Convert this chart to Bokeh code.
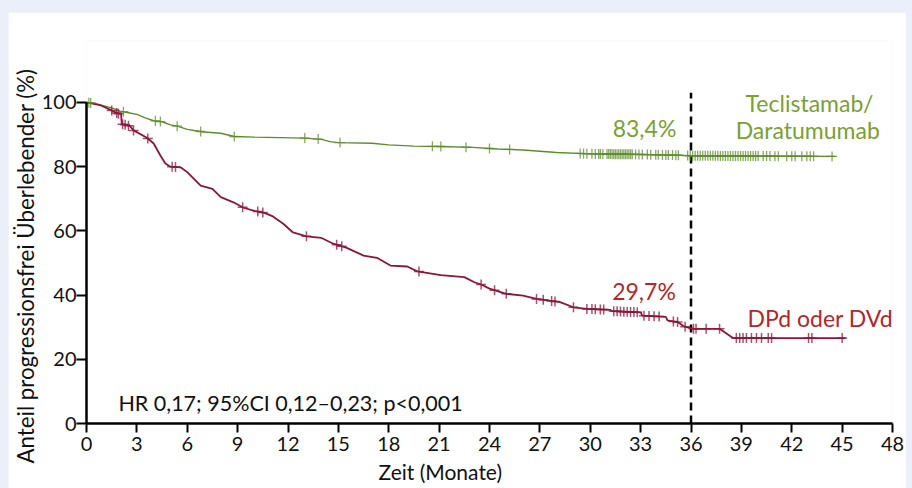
import numpy as np
from bokeh.plotting import figure
from bokeh.models import Label, FixedTicker, Range1d, Title
from bokeh.layouts import column
from bokeh.embed import file_html
from bokeh.resources import INLINE

# ---------------- data ----------------
x_ticks = [0, 3, 6, 9, 12, 15, 18, 21, 24, 27, 30, 33, 36, 39, 42, 45, 48]
y_ticks = [0, 20, 40, 60, 80, 100]

# Teclistamab/Daratumumab (Kaplan-Meier estimate, %)
tec_t = [0, 0.5, 1.0, 1.5, 2.0, 2.5, 3.0, 3.5, 4.0, 4.5, 5.0, 5.5, 6.0, 6.5, 7.0,
         8.0, 8.8, 10.0, 13.0, 14.0, 14.5, 15.0, 17.0, 18.0, 19.5, 21.0, 23.0,
         24.5, 26.0, 27.0, 28.0, 30.0, 33.0, 35.0, 36.0, 44.6]
tec_s = [100, 99.7, 99.0, 98.3, 97.3, 96.8, 96.3, 95.2, 94.3, 94.0, 93.0, 92.5,
         91.6, 91.2, 90.8, 90.4, 89.4, 89.2, 88.9, 88.5, 87.8, 87.5, 87.3, 86.8,
         86.4, 86.3, 86.0, 85.5, 85.2, 84.8, 84.4, 84.0, 83.8, 83.6, 83.4, 83.2]
tec_censor_t = [0.14, 0.25, 2.2, 4.1, 4.4, 5.4, 6.8, 8.8, 13.0, 13.8, 15.1, 20.6,
                21.1, 22.6, 24.0, 25.2,
                29.4, 29.6, 29.8, 30.1, 30.3, 30.5, 30.6, 30.75, 31.0, 31.1, 31.2,
                31.3, 31.4, 31.5, 31.6, 31.7, 31.8, 31.9, 32.0, 32.1, 32.2, 32.3,
                32.4, 32.5, 32.7, 32.9, 33.1, 33.4, 33.6, 33.9, 34.05, 34.3, 34.5,
                34.65, 34.9, 35.1, 35.25, 35.8, 35.95, 36.1, 36.25, 36.4, 36.55,
                36.7, 36.85, 37.0, 37.15, 37.3, 37.45, 37.6, 37.75, 37.9, 38.05,
                38.2, 38.35, 38.5, 38.65, 38.8, 38.95, 39.1, 39.25, 39.4, 39.55,
                39.7, 39.85, 40.0, 40.3, 40.5, 40.7, 41.0, 41.2, 41.7, 42.0, 42.2,
                42.6, 42.9, 43.1, 43.3, 44.4]

# DPd oder DVd (Kaplan-Meier estimate, %)
dpd_t = [0, 0.8, 1.43, 1.9, 2.06, 2.1, 2.6, 2.8, 3.6, 4.0, 4.4, 4.7, 5.0, 5.6,
         6.0, 6.8, 7.5, 8.0, 8.75, 9.35, 10.0, 10.6, 11.1, 11.7, 12.3, 13.1,
         14.0, 14.7, 15.5, 16.5, 17.3, 18.1, 19.1, 19.7, 21.1, 22.5, 23.1, 23.5,
         24.0, 25.0, 26.0, 26.8, 28.2, 29.0, 29.8, 31.2, 31.3, 33.0, 33.1, 34.5,
         34.6, 35.2, 35.6, 36.0, 36.2, 37.7, 38.5, 45.2]
dpd_s = [100, 99.2, 97.7, 96.5, 96.5, 93.3, 92.6, 91.3, 89.0, 87.2, 83.5, 81.0,
         80.0, 79.8, 78.3, 74.1, 73.1, 70.5, 68.9, 67.2, 66.2, 65.6, 64.5, 62.3,
         59.5, 58.3, 57.8, 56.0, 54.7, 52.3, 51.6, 49.2, 48.9, 47.4, 46.2, 45.6,
         44.0, 43.3, 42.0, 40.4, 39.8, 38.8, 37.8, 36.2, 35.7, 35.4, 35.0, 34.6,
         33.6, 33.2, 32.1, 31.6, 30.2, 29.7, 29.5, 29.5, 26.6, 26.6]
dpd_censor_t = [1.5, 1.8, 1.9, 2.15, 2.3, 2.5, 2.8, 3.65, 5.1, 5.3, 9.3, 10.2,
                10.5, 13.1, 14.9, 15.2, 19.8, 23.5, 24.3, 25.0, 26.8, 27.2, 27.7,
                27.9, 29.0, 29.8, 30.1, 30.3, 30.6, 30.8, 31.4, 31.6, 31.8, 32.0,
                32.2, 32.4, 32.6, 32.8, 33.2, 33.5, 33.8, 34.1, 34.95, 35.2,
                35.65, 36.15, 36.3, 36.9, 37.7, 38.7, 38.9, 39.1, 39.3, 39.6,
                39.9, 40.2, 40.6, 40.8, 43.0, 43.2, 45.0]

landmark_month = 36
tec_landmark = "83,4%"
dpd_landmark = "29,7%"
tec_name = ["Teclistamab/", "Daratumumab"]
dpd_name = "DPd oder DVd"
hr_text = "HR 0,17; 95%CI 0,12–0,23; p<0,001"
x_title = "Zeit (Monate)"
y_title = "Anteil progressionsfrei Überlebender (%)"

# ---------------- styling ----------------
FONT = "Lato"
GREEN_LINE = "#5E8C2B"
GREEN_TEXT = "#7BA033"
RED_LINE = "#8A1739"
RED_TEXT = "#B0282E"
PAGE_BG = "#EAEFFA"

p = figure(width=898, height=476,
           x_range=Range1d(0, 48), y_range=Range1d(0, 119.3),
           output_backend="svg", toolbar_location=None,
           min_border_left=78, min_border_right=14,
           min_border_top=28, min_border_bottom=65)
p.outline_line_color = None
p.grid.visible = False
p.background_fill_color = "white"
p.border_fill_color = "white"
p.margin = (12, 6, 0, 8)

for ax in (p.xaxis[0], p.yaxis[0]):
    ax.axis_line_width = 2.5
    ax.axis_line_color = "black"
    ax.major_tick_line_width = 2
    ax.major_tick_line_color = "black"
    ax.minor_tick_line_color = None
    ax.major_tick_in = 0
    ax.major_label_text_font = FONT
    ax.major_label_text_font_size = "20px"
    ax.major_label_text_color = "#111111"

p.xaxis.ticker = FixedTicker(ticks=x_ticks)
p.xaxis.major_tick_out = 9
p.xaxis.major_label_standoff = 4
p.yaxis.ticker = FixedTicker(ticks=y_ticks)
p.yaxis.major_tick_out = 10
p.yaxis.major_label_standoff = 0
p.yaxis.bounds = (0, 100)

# axis titles
p.add_layout(Title(text=x_title, align="left", offset=292, standoff=7,
                   text_font=FONT, text_font_size="21px",
                   text_font_style="normal", text_color="#111111"), "below")
p.add_layout(Title(text=y_title, align="left", offset=-40, standoff=0,
                   text_font=FONT, text_font_size="22.3px",
                   text_font_style="normal", text_color="#111111"), "left")

# landmark line
p.line([landmark_month, landmark_month], [0, 103], line_color="black",
       line_width=2.5, line_dash="8 5")

# curves
p.line(tec_t, tec_s, line_color=GREEN_LINE, line_width=1.4)
p.line(dpd_t, dpd_s, line_color=RED_LINE, line_width=1.8)

tec_cy = np.interp(tec_censor_t, tec_t, tec_s)
dpd_cy = np.interp(dpd_censor_t, dpd_t, dpd_s)
p.scatter(tec_censor_t, tec_cy, marker="cross", size=10, line_width=1.3,
          line_color=GREEN_LINE, line_alpha=0.75)
p.scatter(dpd_censor_t, dpd_cy, marker="cross", size=10, line_width=1.5,
          line_color=RED_LINE, line_alpha=0.75)

def lab(x, y, text, color="#111111", size="20px", align="center"):
    p.add_layout(Label(x=x, y=y, text=text, text_font=FONT,
                       text_font_size=size, text_color=color,
                       text_align=align, text_baseline="middle"))

lab(33.23, 92.2, tec_landmark, GREEN_TEXT, "23px")
lab(43.06, 99.9, tec_name[0], GREEN_TEXT, "23px")
lab(42.95, 91.5, tec_name[1], GREEN_TEXT, "23px")
lab(33.2, 41.3, dpd_landmark, RED_TEXT, "23px")
lab(43.7, 33.0, dpd_name, RED_TEXT, "23px")
lab(1.9, 6.4, hr_text, size="21.5px", align="left")

layout = column(p, styles={"background-color": PAGE_BG})
open("out.html", "w").write(file_html(layout, INLINE))
